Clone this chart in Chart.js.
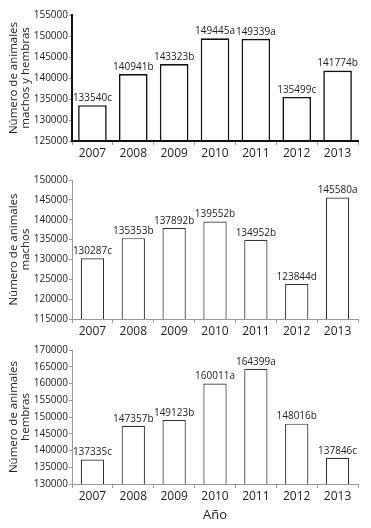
<!DOCTYPE html>
<html><head><meta charset="utf-8">
<script src="https://cdn.jsdelivr.net/npm/chart.js"></script>
<style>
html,body{margin:0;padding:0;background:#fff;width:371px;height:528px;overflow:hidden;}
canvas{position:absolute;left:0;}
</style></head>
<body>
<canvas id="c1" width="371" height="165" style="top:0px"></canvas>
<canvas id="c2" width="371" height="175" style="top:165px"></canvas>
<canvas id="c3" width="371" height="188" style="top:340px"></canvas>
<script>
const years = ['2007','2008','2009','2010','2011','2012','2013'];
const totalValues = [133540,140941,143323,149445,149339,135499,141774];
const totalLetters = ['c','b','b','a','a','c','b'];
const machosValues = [130287,135353,137892,139552,134952,123844,145580];
const machosLetters = ['c','b','b','b','b','d','a'];
const hembrasValues = [137335,147357,149123,160011,164399,148016,137846];
const hembrasLetters = ['c','b','b','a','a','b','c'];
const totalTicks = {min:125000,max:155000,step:5000};
const machosTicks = {min:115000,max:150000,step:5000};
const hembrasTicks = {min:130000,max:170000,step:5000};

const FONT = "'Open Sans', 'DejaVu Sans', sans-serif";

const labelPlugin = {
  id:'barLabels',
  afterDatasetsDraw(chart){
    const ctx = chart.ctx;
    const ds = chart.data.datasets[0];
    const meta = chart.getDatasetMeta(0);
    ctx.save();
    ctx.font = "10px " + FONT;
    ctx.fillStyle = '#222';
    ctx.textAlign = 'center';
    ctx.textBaseline = 'bottom';
    meta.data.forEach((bar,i)=>{
      ctx.fillText(ds.data[i] + ds.letters[i], bar.x, bar.y - 2);
    });
    ctx.restore();
  }
};

function make(id, values, letters, ticks, titleLines, opts){
  new Chart(document.getElementById(id), {
    type:'bar',
    data:{labels:years, datasets:[{data:values, letters:letters,
      backgroundColor:'#ffffff', borderColor:opts.barColor, borderWidth:opts.barWidth,
      barPercentage:opts.barPct, categoryPercentage:1.0}]},
    options:{
      responsive:false, animation:false,
      layout:{padding:{top:opts.top,right:13,left:0,bottom:0}},
      plugins:{legend:{display:false}, tooltip:{enabled:false}},
      scales:{
        x:{
          grid:{display:true, z:1, drawOnChartArea:false, drawTicks:true, tickLength:4, color:opts.tickColor, lineWidth:1, offset:true},
          border:{display:true, z:2, color:opts.axisColor, width:opts.axisWidth},
          ticks:{color:'#222', font:{family:FONT, size:12}, padding:1, maxRotation:0},
          title: opts.xTitle ? {display:true, text:opts.xTitle, color:'#222', font:{family:FONT,size:13}, padding:{top:0,bottom:5}} : {display:false},
          afterFit(s){ s.height = opts.xh; }
        },
        y:{
          min:ticks.min, max:ticks.max,
          grid:{display:true, z:1, drawOnChartArea:false, drawTicks:true, tickLength:3, color:opts.tickColor, lineWidth:1},
          border:{display:true, z:2, color:opts.axisColor, width:opts.axisWidth},
          ticks:{stepSize:ticks.step, color:'#222', font:{family:FONT, size:10}, padding:1, callback:v=>String(v)},
          title:{display:true, text:titleLines, color:'#222', font:{family:FONT, size:11.5, lineHeight:1.05}, padding:{top:8,bottom:0}},
          afterFit(s){ s.width = 72; }
        }
      }
    },
    plugins:[labelPlugin]
  });
}

make('c1', totalValues, totalLetters, totalTicks, ['Número de animales','machos y hembras'],
  {barColor:'#111', barWidth:1.6, barPct:0.7, top:15, xh:24, axisColor:'#111', axisWidth:2, tickColor:'#999'});
make('c2', machosValues, machosLetters, machosTicks, ['Número de animales','machos'],
  {barColor:'#333', barWidth:1.2, barPct:0.57, top:15, xh:21, axisColor:'#999', axisWidth:1, tickColor:'#999'});
make('c3', hembrasValues, hembrasLetters, hembrasTicks, ['Número de animales','hembras'],
  {barColor:'#333', barWidth:1.2, barPct:0.57, top:10, xh:44, axisColor:'#999', axisWidth:1, tickColor:'#999', xTitle:'Año'});
</script>
</body></html>
